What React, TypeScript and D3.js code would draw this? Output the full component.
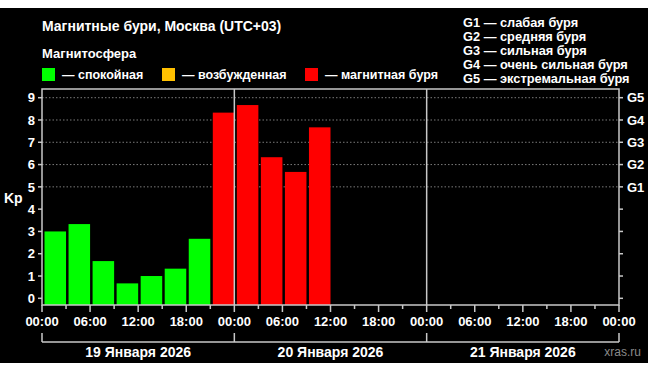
import React, { useEffect, useRef } from 'react';
import * as d3 from 'd3';

// Kp index per 3-hour interval, starting 19 Jan 00:00
const kpValues = [3.0, 3.33, 1.67, 0.67, 1.0, 1.33, 2.67, 8.33, 8.67, 6.33, 5.67, 7.67];
const dayLabels = ['19 Января 2026', '20 Января 2026', '21 Января 2026'];
const hourLabels = ['00:00', '06:00', '12:00', '18:00'];
const kpTicks = [0, 1, 2, 3, 4, 5, 6, 7, 8, 9];
const gLabels = ['G1', 'G2', 'G3', 'G4', 'G5'];
const legendLabels = ['— спокойная', '— возбужденная', '— магнитная буря'];
const legendColors = ['#00ff00', '#ffc000', '#ff0000'];
const stormLines = [
  'G1 — слабая буря',
  'G2 — средняя буря',
  'G3 — сильная буря',
  'G4 — очень сильная буря',
  'G5 — экстремальная буря',
];

const W = 650;
const H = 372;
const FONT = '"Liberation Sans", Arial, sans-serif';

const kpColor = (v: number) => (v < 4 ? legendColors[0] : v < 5 ? legendColors[1] : legendColors[2]);

const App = () => {
  const ref = useRef<SVGSVGElement>(null);

  useEffect(() => {
    const svg = d3.select(ref.current);
    svg.selectAll('*').remove();

    const left = 42, right = 619, top = 89, bottom = 305;
    const axisColor = '#c8c8c8';

    svg.append('rect').attr('width', W).attr('height', H).attr('fill', '#fff');
    svg.append('rect').attr('x', 0).attr('y', 8).attr('width', 648).attr('height', 355).attr('fill', '#000');

    const xScale = d3.scaleLinear().domain([0, 72]).range([left, right]);
    const yScale = d3.scaleLinear().domain([-0.3, 9.39]).range([bottom, top]);

    // header
    svg.append('text').attr('x', 42).attr('y', 31).text('Магнитные бури, Москва (UTC+03)')
      .style('fill', '#fff').style('font', `bold 14px ${FONT}`);
    svg.append('text').attr('x', 42).attr('y', 58).text('Магнитосфера')
      .style('fill', '#fff').style('font', `bold 13px ${FONT}`);

    const legendX = [42, 162, 305];
    legendLabels.forEach((lab, i) => {
      svg.append('rect').attr('x', legendX[i]).attr('y', 68).attr('width', 13).attr('height', 13)
        .attr('fill', legendColors[i]);
      svg.append('text').attr('x', legendX[i] + 20).attr('y', 79).text(lab)
        .style('fill', '#fff').style('font', `bold 12.5px ${FONT}`);
    });

    stormLines.forEach((s, i) => {
      svg.append('text').attr('x', 463).attr('y', 26.5 + i * 14.2).text(s)
        .style('fill', '#fff').style('font', `bold 12.8px ${FONT}`);
    });

    // dotted grid at storm levels
    svg.append('g').selectAll('line').data([5, 6, 7, 8, 9]).enter().append('line')
      .attr('x1', left).attr('x2', right)
      .attr('y1', d => yScale(d)).attr('y2', d => yScale(d))
      .attr('stroke', '#7a7a7a').attr('stroke-width', 1).attr('stroke-dasharray', '1.5,2');

    // bars
    svg.append('g').selectAll('rect').data(kpValues).enter().append('rect')
      .attr('x', (d, i) => xScale(i * 3) + 2.5)
      .attr('y', d => yScale(d))
      .attr('width', xScale(3) - xScale(0) - 2.5)
      .attr('height', d => bottom - yScale(d))
      .attr('fill', d => kpColor(d));

    // frame
    svg.append('rect').attr('x', left).attr('y', top).attr('width', right - left).attr('height', bottom - top)
      .attr('fill', 'none').attr('stroke', axisColor).attr('stroke-width', 1.5);

    // day separators
    svg.append('g').selectAll('line').data([24, 48]).enter().append('line')
      .attr('x1', d => xScale(d)).attr('x2', d => xScale(d))
      .attr('y1', top).attr('y2', bottom)
      .attr('stroke', axisColor).attr('stroke-width', 1.5);

    // left axis
    const yAxisL = svg.append('g');
    yAxisL.selectAll('line').data(kpTicks).enter().append('line')
      .attr('x1', left - 4).attr('x2', left)
      .attr('y1', d => yScale(d)).attr('y2', d => yScale(d))
      .attr('stroke', axisColor).attr('stroke-width', 1.5);
    yAxisL.selectAll('text').data(kpTicks).enter().append('text')
      .attr('x', left - 7).attr('y', d => yScale(d)).attr('dy', '0.36em')
      .attr('text-anchor', 'end').text(d => d)
      .style('fill', '#fff').style('font', `bold 13px ${FONT}`);

    svg.append('text').attr('x', 4).attr('y', 203).text('Kp')
      .style('fill', '#fff').style('font', `bold 14px ${FONT}`);

    // right axis
    const yAxisR = svg.append('g');
    yAxisR.selectAll('line').data(kpTicks).enter().append('line')
      .attr('x1', right).attr('x2', right + 4)
      .attr('y1', d => yScale(d)).attr('y2', d => yScale(d))
      .attr('stroke', axisColor).attr('stroke-width', 1.5);
    yAxisR.selectAll('text').data(gLabels).enter().append('text')
      .attr('x', right + 8).attr('y', (d, i) => yScale(i + 5)).attr('dy', '0.36em')
      .text(d => d)
      .style('fill', '#fff').style('font', `bold 13px ${FONT}`);

    // x ticks every 3h, longer every 6h
    const hours = d3.range(0, 73, 3);
    svg.append('g').selectAll('line').data(hours).enter().append('line')
      .attr('x1', d => xScale(d)).attr('x2', d => xScale(d))
      .attr('y1', bottom).attr('y2', d => bottom + (d % 6 === 0 ? 7 : 4))
      .attr('stroke', axisColor).attr('stroke-width', 1.5);

    const labelHours = d3.range(0, 73, 6);
    svg.append('g').selectAll('text').data(labelHours).enter().append('text')
      .attr('x', d => xScale(d)).attr('y', 326)
      .attr('text-anchor', 'middle')
      .text(d => hourLabels[(d / 6) % 4])
      .style('fill', '#fff').style('font', `bold 13px ${FONT}`);

    // day brackets
    svg.append('line').attr('x1', xScale(0)).attr('x2', xScale(72)).attr('y1', 342).attr('y2', 342)
      .attr('stroke', axisColor).attr('stroke-width', 1.5);
    svg.append('g').selectAll('line').data([0, 24, 48, 72]).enter().append('line')
      .attr('x1', d => xScale(d)).attr('x2', d => xScale(d))
      .attr('y1', 333).attr('y2', 342)
      .attr('stroke', axisColor).attr('stroke-width', 1.5);
    svg.append('g').selectAll('text').data(dayLabels).enter().append('text')
      .attr('x', (d, i) => xScale(i * 24 + 12)).attr('y', 357)
      .attr('text-anchor', 'middle').text(d => d)
      .style('fill', '#fff').style('font', `bold 14px ${FONT}`);

    svg.append('text').attr('x', 641).attr('y', 356).attr('text-anchor', 'end').text('xras.ru')
      .style('fill', '#8a8a8a').style('font', `12px ${FONT}`);
  }, []);

  return (
    <svg ref={ref} width={W} height={H} style={{ position: 'absolute', left: 0, top: 0 }}></svg>
  );
};

export default App;
